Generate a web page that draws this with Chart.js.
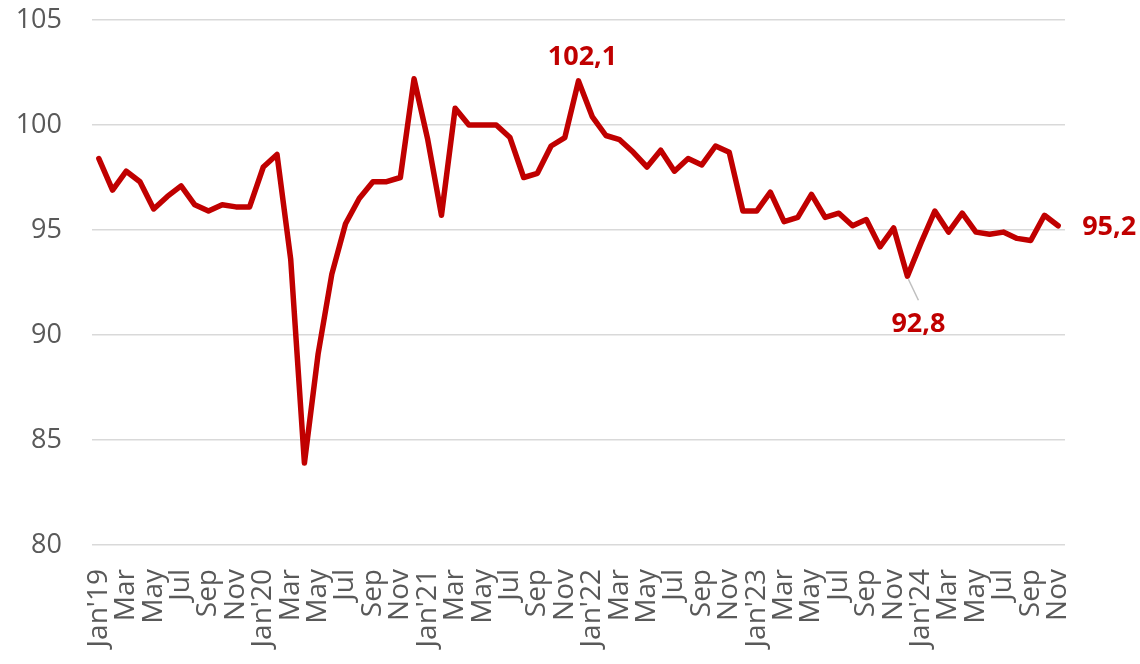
<!DOCTYPE html>
<html>
<head>
<meta charset="utf-8">
<script src="https://cdn.jsdelivr.net/npm/chart.js@4.4.1/dist/chart.umd.min.js"></script>
<style>
  html, body { margin: 0; padding: 0; background: #fff; }
  #wrap { width: 1140px; height: 664px; position: relative; }
</style>
</head>
<body>
<div id="wrap"><canvas id="indexChart"></canvas></div>
<script>
// Monthly index, Jan'19 - Nov'24
const months = [
  "Jan'19", 'Feb', 'Mar', 'Apr', 'May', 'Jun', 'Jul', 'Aug', 'Sep', 'Oct', 'Nov', 'Dec',
  "Jan'20", 'Feb', 'Mar', 'Apr', 'May', 'Jun', 'Jul', 'Aug', 'Sep', 'Oct', 'Nov', 'Dec',
  "Jan'21", 'Feb', 'Mar', 'Apr', 'May', 'Jun', 'Jul', 'Aug', 'Sep', 'Oct', 'Nov', 'Dec',
  "Jan'22", 'Feb', 'Mar', 'Apr', 'May', 'Jun', 'Jul', 'Aug', 'Sep', 'Oct', 'Nov', 'Dec',
  "Jan'23", 'Feb', 'Mar', 'Apr', 'May', 'Jun', 'Jul', 'Aug', 'Sep', 'Oct', 'Nov', 'Dec',
  "Jan'24", 'Feb', 'Mar', 'Apr', 'May', 'Jun', 'Jul', 'Aug', 'Sep', 'Oct', 'Nov'
];

const values = [
  98.4, 96.9, 97.8, 97.3, 96.0, 96.6, 97.1, 96.2, 95.9, 96.2, 96.1, 96.1,
  98.0, 98.6, 93.6, 83.9, 89.1, 92.9, 95.3, 96.5, 97.3, 97.3, 97.5, 102.2,
  99.3, 95.7, 100.8, 100.0, 100.0, 100.0, 99.4, 97.5, 97.7, 99.0, 99.4, 102.1,
  100.4, 99.5, 99.3, 98.7, 98.0, 98.8, 97.8, 98.4, 98.1, 99.0, 98.7, 95.9,
  95.9, 96.8, 95.4, 95.6, 96.7, 95.6, 95.8, 95.2, 95.5, 94.2, 95.1, 92.8,
  94.4, 95.9, 94.9, 95.8, 94.9, 94.8, 94.9, 94.6, 94.5, 95.7, 95.2
];

const yTicks = [80, 85, 90, 95, 100, 105];

// points that get a value label
const labelledIdx = [35, 59, 70];
const labelText = ['102,1', '92,8', '95,2'];

const RED = '#c00000';
const GREY = '#595959';

// value labels drawn at the points' positions
const valueLabels = {
  id: 'valueLabels',
  afterDatasetsDraw(chart) {
    const ctx = chart.ctx;
    const pts = chart.getDatasetMeta(0).data;
    ctx.save();
    ctx.font = 'bold 27px "Open Sans"';
    ctx.fillStyle = RED;
    ctx.textBaseline = 'middle';

    // peak, above
    let p = pts[labelledIdx[0]];
    ctx.textAlign = 'center';
    ctx.fillText(labelText[0], p.x + 4, p.y - 24);

    // low, below with leader line
    p = pts[labelledIdx[1]];
    ctx.strokeStyle = '#bfbfbf';
    ctx.lineWidth = 1.5;
    ctx.beginPath();
    ctx.moveTo(p.x + 1, p.y + 3);
    ctx.lineTo(p.x + 11, p.y + 24);
    ctx.stroke();
    ctx.fillText(labelText[1], p.x + 11, p.y + 48);

    // last, to the right
    p = pts[labelledIdx[2]];
    ctx.textAlign = 'left';
    ctx.fillText(labelText[2], p.x + 24, p.y + 2);
    ctx.restore();
  }
};

new Chart(document.getElementById('indexChart'), {
  type: 'line',
  data: {
    labels: months,
    datasets: [{
      data: values,
      borderColor: RED,
      borderWidth: 5.5,
      borderJoinStyle: 'round',
      borderCapStyle: 'round',
      pointRadius: 0,
      tension: 0,
      fill: false
    }]
  },
  options: {
    responsive: true,
    maintainAspectRatio: false,
    animation: false,
    layout: { padding: { top: 20, right: 75, left: 0, bottom: 0 } },
    plugins: {
      legend: { display: false },
      tooltip: { enabled: false }
    },
    scales: {
      x: {
        offset: true,
        grid: { display: false, drawTicks: false },
        border: { display: false },
        afterFit(scale) { scale.height = 119; },
        ticks: {
          autoSkip: false,
          minRotation: 90,
          maxRotation: 90,
          padding: 24,
          color: GREY,
          font: { family: '"Open Sans"', size: 28 },
          callback: function(value, index) {
            return index % 2 === 0 ? months[index] : null;
          }
        }
      },
      y: {
        min: 80,
        max: 105,
        afterFit(scale) {
          scale.width = 92;
          scale.paddingTop = 0;
          scale.paddingBottom = 0;
        },
        afterBuildTicks(scale) {
          scale.ticks = yTicks.map(v => ({ value: v }));
        },
        grid: { color: '#d9d9d9', lineWidth: 1.5, drawTicks: false },
        border: { display: false },
        ticks: {
          padding: 30,
          color: GREY,
          font: { family: '"Open Sans"', size: 27 }
        }
      }
    }
  },
  plugins: [valueLabels]
});
</script>
</body>
</html>
